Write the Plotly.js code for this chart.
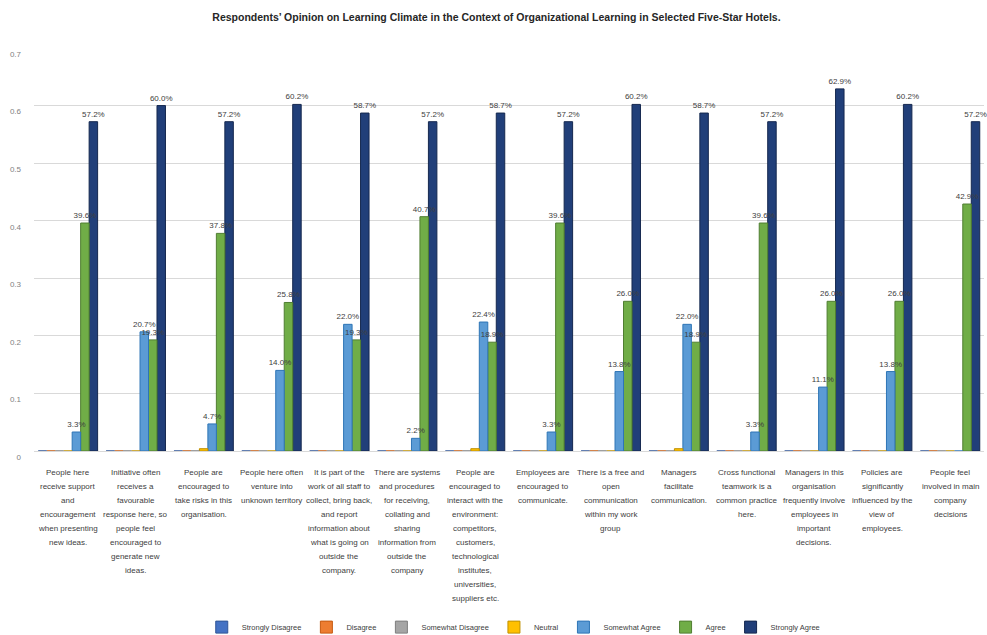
<!DOCTYPE html>
<html>
<head>
<meta charset="utf-8">
<script src="https://cdn.plot.ly/plotly-3.0.1.min.js"></script>
<style>html,body{margin:0;padding:0;background:#fff;}#chart{width:987px;height:635px;}</style>
</head>
<body>
<div id="chart"></div>
<script>
const categories = [
  "People here<br>receive support<br>and<br>encouragement<br>when presenting<br>new ideas.",
  "Initiative often<br>receives a<br>favourable<br>response here, so<br>people feel<br>encouraged to<br>generate new<br>ideas.",
  "People are<br>encouraged to<br>take risks in this<br>organisation.",
  "People here often<br>venture into<br>unknown territory",
  "It is part of the<br>work of all staff to<br>collect, bring back,<br>and report<br>information about<br>what is going on<br>outside the<br>company.",
  "There are systems<br>and procedures<br>for receiving,<br>collating and<br>sharing<br>information from<br>outside the<br>company",
  "People are<br>encouraged to<br>interact with the<br>environment:<br>competitors,<br>customers,<br>technological<br>institutes,<br>universities,<br>suppliers etc.",
  "Employees are<br>encouraged to<br>communicate.",
  "There is a free and<br>open<br>communication<br>within my work<br>group",
  "Managers<br>facilitate<br>communication.",
  "Cross functional<br>teamwork is a<br>common practice<br>here.",
  "Managers in this<br>organisation<br>frequently involve<br>employees in<br>important<br>decisions.",
  "Policies are<br>significantly<br>influenced by the<br>view of<br>employees.",
  "People feel<br>involved in main<br>company<br>decisions"
];
const seriesNames = ["Strongly Disagree","Disagree","Somewhat Disagree","Neutral","Somewhat Agree","Agree","Strongly Agree"];
const stronglyDisagree = [0,0,0,0,0,0,0,0,0,0,0,0,0,0];
const disagree         = [0,0,0,0,0,0,0,0,0,0,0,0,0,0];
const somewhatDisagree = [0,0,0,0,0,0,0,0,0,0,0,0,0,0];
const neutral          = [0,0,0.004,0,0,0,0.004,0,0,0.004,0,0,0,0];
const somewhatAgree    = [0.033,0.207,0.047,0.140,0.220,0.022,0.224,0.033,0.138,0.220,0.033,0.111,0.138,0];
const agree            = [0.396,0.193,0.378,0.258,0.193,0.407,0.189,0.396,0.260,0.189,0.396,0.260,0.260,0.429];
const stronglyAgree    = [0.572,0.600,0.572,0.602,0.587,0.572,0.587,0.572,0.602,0.587,0.572,0.629,0.602,0.572];
const yTicks = [0,0.1,0.2,0.3,0.4,0.5,0.6,0.7];
const yTickText = ["0","0.1","0.2","0.3","0.4","0.5","0.6","0.7"];

const FONT = 'Liberation Sans, Arial, sans-serif';
const colors = ["#4472C4","#ED7D31","#A5A5A5","#FFC000","#5B9BD5","#70AD47","#213F79"];
const lineColors = ["#2F5597","#C55A11","#7F7F7F","#BF9000","#2E75B6","#507E32","#15284F"];
const allValues = [stronglyDisagree,disagree,somewhatDisagree,neutral,somewhatAgree,agree,stronglyAgree];
const showLabels = [false,false,false,false,true,true,true];

const SLOT = 0.125;
const xIdx = categories.map((c,j)=>j);
const barTraces = allValues.map((vals,i)=>({
  type:'bar',
  name: seriesNames[i],
  x: xIdx,
  y: vals,
  width: SLOT,
  offset: -3.5*SLOT + i*SLOT,
  marker:{color:colors[i], line:{color:lineColors[i], width:1}},
  hoverinfo:'y+name'
})).reverse();

// transparent twins carrying the value labels, drawn last so labels sit on top
const labelTraces = allValues.map((vals,i)=>({
  type:'bar',
  name: seriesNames[i]+' labels',
  showlegend:false,
  x: xIdx,
  y: vals,
  width: SLOT,
  offset: -3.5*SLOT + i*SLOT,
  marker:{color:'rgba(0,0,0,0)', line:{width:0}},
  text: vals.map(v => (showLabels[i] && v>0) ? (v*100).toFixed(1)+'%' : ''),
  textposition:'outside',
  constraintext:'none',
  textfont:{size:8, color:'#404040', family:FONT},
  cliponaxis:false,
  hoverinfo:'skip'
})).filter((t,i)=>showLabels[i]);

// category labels, one annotation per line so the line spacing matches
const annotations = [];
categories.forEach((c,j)=>{
  c.split('<br>').forEach((line,k)=>{
    annotations.push({
      text: line, x: j, xref:'x', y: 0, yref:'paper',
      xanchor:'center', yanchor:'middle', yshift: -21 - 14*k,
      showarrow:false, font:{size:8, color:'#404040', family:FONT}
    });
  });
});

const layout = {
  width:987, height:635,
  paper_bgcolor:'#ffffff', plot_bgcolor:'#ffffff',
  margin:{l:34, r:3, t:48, b:184, autoexpand:false},
  title:{text:"Respondents’ Opinion on Learning Climate in the Context of Organizational Learning in Selected Five-Star Hotels.",
         font:{size:10.5, color:'#262626', family:FONT, weight:'bold'},
         x:0.503, xanchor:'center', y:0.973, yanchor:'middle'},
  barmode:'overlay',
  xaxis:{
    range:[-0.5,13.5], showgrid:false, zeroline:false, showline:false,
    ticks:'', showticklabels:false
  },
  yaxis:{
    range:[0,0.7], tickvals:yTicks, ticktext:yTickText,
    showgrid:true, gridcolor:'#D9D9D9', gridwidth:1,
    zeroline:true, zerolinecolor:'#D9D9D9', showline:false,
    ticks:'', tickfont:{size:8, color:'#7F7F7F', family:FONT},
    ticklabelstandoff:12, ticklabelshift:6
  },
  annotations: annotations,
  legend:{orientation:'h', x:0.505, xanchor:'center', y:-0.437, yanchor:'middle',
          font:{size:7.5, color:'#404040', family:FONT},
          itemwidth:30, traceorder:'reversed'},
  showlegend:true
};
Plotly.newPlot('chart', barTraces.concat(labelTraces), layout, {displayModeBar:false, staticPlot:true});
</script>
</body>
</html>
